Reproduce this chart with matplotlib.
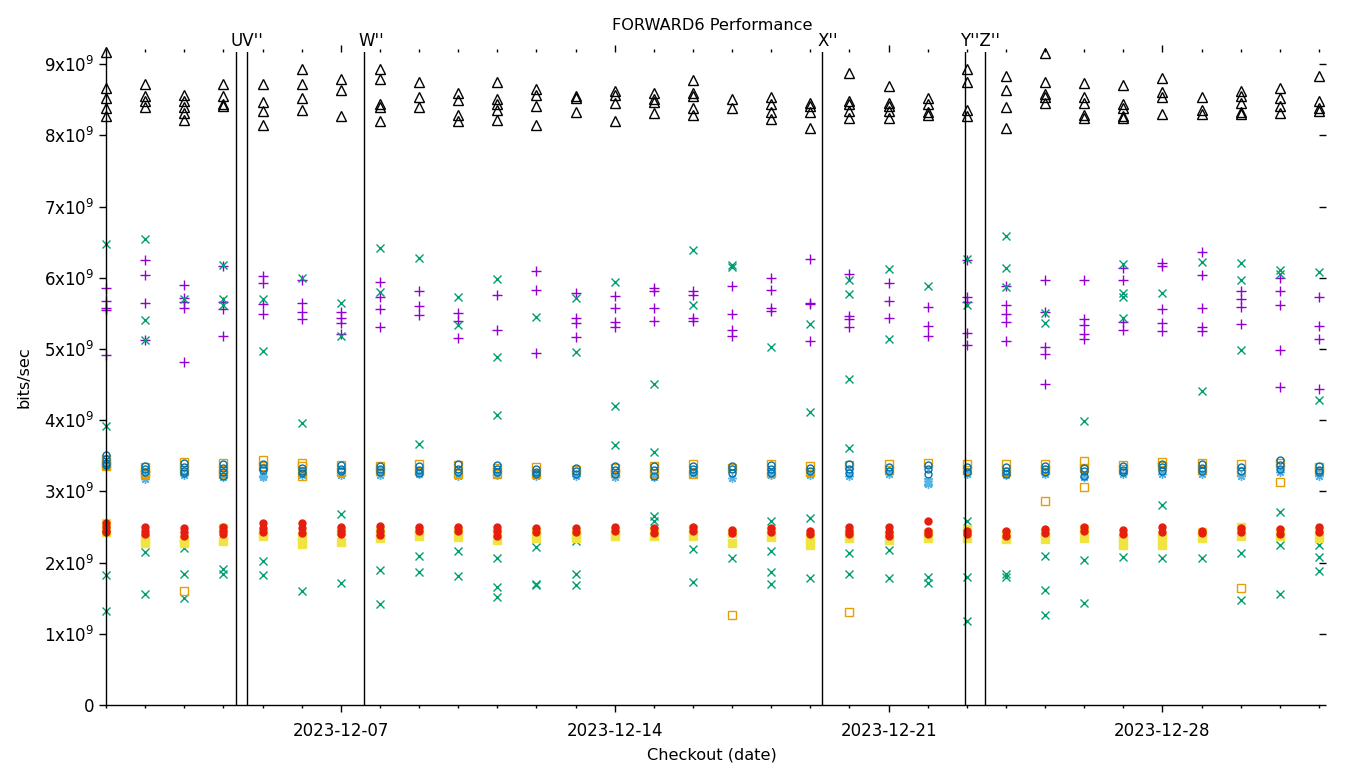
import matplotlib
matplotlib.use("Agg")
import matplotlib.pyplot as plt
import matplotlib.dates as mdates
import pandas as pd

# one column of points per day, values in units of 1e9 bits/sec
days = pd.date_range("2023-12-01", "2024-01-01", freq="D")

plus_vals = [
    [5.86, 5.67, 5.58, 5.55, 4.92], [6.25, 6.04, 5.65, 5.13], [5.90, 5.72, 5.66, 5.58, 4.82],
    [6.17, 5.66, 5.56, 5.18], [6.03, 5.93, 5.63, 5.49], [5.97, 5.65, 5.52, 5.42],
    [5.52, 5.44, 5.36, 5.21], [5.94, 5.73, 5.56, 5.31], [5.81, 5.60, 5.48],
    [5.51, 5.39, 5.15], [5.76, 5.27], [6.10, 5.83, 4.95],
    [5.79, 5.44, 5.37, 5.17], [5.75, 5.58, 5.38, 5.31], [5.86, 5.81, 5.58, 5.39],
    [5.81, 5.76, 5.44, 5.39], [5.88, 5.49, 5.27, 5.18], [6.00, 5.83, 5.58, 5.53],
    [6.26, 5.65, 5.63, 5.11], [6.05, 5.46, 5.42, 5.31], [5.93, 5.67, 5.44],
    [5.59, 5.32, 5.18], [6.25, 5.73, 5.66, 5.22, 5.06], [5.88, 5.62, 5.49, 5.38, 5.11],
    [5.97, 5.52, 5.03, 4.93, 4.51], [5.97, 5.42, 5.34, 5.21, 5.14], [6.14, 5.97, 5.38, 5.27],
    [6.21, 6.17, 5.56, 5.37, 5.25], [6.36, 6.04, 5.58, 5.31, 5.25], [5.81, 5.70, 5.59, 5.35],
    [6.00, 5.81, 5.62, 4.99, 4.47], [5.73, 5.32, 5.14, 4.44],
]
cross_vals = [
    [6.47, 3.92, 1.82, 1.32], [6.55, 5.40, 5.13, 2.15, 1.56], [5.70, 2.21, 1.84, 1.50],
    [6.18, 5.70, 5.62, 1.91, 1.84], [5.70, 4.97, 2.02, 1.83], [6.00, 3.96, 1.60],
    [5.65, 5.18, 2.68, 1.72], [6.42, 5.80, 1.90, 1.42], [6.28, 3.67, 2.09, 1.87],
    [5.73, 5.34, 2.16, 1.81], [5.98, 4.89, 4.07, 2.06, 1.66, 1.52], [5.45, 2.22, 1.70, 1.68],
    [5.72, 4.96, 2.30, 1.84, 1.68], [5.94, 4.20, 3.65], [4.51, 3.55, 2.65, 2.58],
    [6.39, 5.62, 2.19, 1.73], [6.18, 6.15, 2.06], [5.03, 2.58, 2.16, 1.87, 1.70],
    [5.35, 4.12, 2.62, 1.78], [5.97, 5.77, 4.58, 3.61, 2.13, 1.84], [6.12, 5.14, 2.18, 1.78],
    [5.88, 3.13, 1.80, 1.71], [6.26, 5.62, 2.58, 1.80, 1.18], [6.59, 6.14, 5.87, 1.84, 1.80],
    [5.51, 5.36, 2.09, 1.62, 1.26], [3.99, 2.04, 1.43], [6.19, 5.79, 5.73, 5.44, 2.08],
    [5.79, 2.81, 2.25, 2.06], [6.22, 4.41, 2.06], [6.21, 5.97, 4.99, 2.13, 1.47],
    [6.11, 6.05, 2.71, 2.25, 1.56], [6.08, 4.28, 2.25, 2.08, 1.88],
]
star_vals = [
    [3.36], [3.21, 3.17], [3.23], [3.20], [3.22, 3.20], [3.23], [3.23], [3.23],
    [3.24], [3.22], [3.23], [3.22], [3.22], [3.20], [3.20], [3.24],
    [3.19], [3.23], [3.23], [3.22], [3.25], [3.10, 3.15], [3.24], [3.23],
    [3.25], [3.20], [3.24], [3.24], [3.25], [3.22], [3.27], [3.22],
]
osq_vals = [
    [3.45, 3.38, 3.36], [3.34, 3.27, 3.24], [3.41, 3.30, 1.60], [3.40, 3.30, 3.24],
    [3.44, 3.35], [3.40, 3.36, 3.22], [3.37, 3.27], [3.35, 3.28],
    [3.39, 3.28], [3.37, 3.24], [3.33, 3.25], [3.34, 3.25],
    [3.30], [3.33, 3.26], [3.35, 3.25], [3.38, 3.24],
    [3.33, 1.27], [3.38, 3.26], [3.35, 3.27], [3.37, 1.30],
    [3.39, 3.30], [3.40], [3.39, 3.30], [3.39, 3.27],
    [3.39, 3.30, 2.87], [3.43, 3.33, 3.06], [3.37, 3.32], [3.41, 3.36],
    [3.40, 3.30], [3.38, 3.28, 1.64], [3.40, 3.13], [3.34, 3.28],
]
fsq_vals = [
    [2.56, 2.43], [2.33, 2.27], [2.32, 2.27], [2.48, 2.30], [2.42, 2.37], [2.38, 2.26],
    [2.45, 2.29], [2.45, 2.35], [2.45, 2.38], [2.44, 2.36], [2.42, 2.32], [2.43, 2.35],
    [2.40, 2.35], [2.45, 2.38], [2.45, 2.37], [2.47, 2.38], [2.42, 2.27], [2.45, 2.36],
    [2.35, 2.25], [2.42, 2.35], [2.40, 2.32], [2.42, 2.35], [2.47, 2.35], [2.40, 2.33],
    [2.42, 2.33], [2.47, 2.35], [2.35, 2.25], [2.35, 2.25], [2.43, 2.35], [2.50, 2.38],
    [2.43, 2.37], [2.45, 2.34],
]
ocirc_vals = [
    [3.51, 3.45, 3.40, 3.37], [3.35, 3.31, 3.27], [3.40, 3.34, 3.29, 3.26], [3.38, 3.33, 3.27, 3.21],
    [3.38, 3.33, 3.30], [3.33, 3.29, 3.26], [3.37, 3.32, 3.28], [3.36, 3.31, 3.27],
    [3.36, 3.30, 3.26], [3.38, 3.32, 3.27], [3.37, 3.32, 3.27], [3.31, 3.27, 3.24],
    [3.33, 3.28, 3.24], [3.36, 3.30, 3.25], [3.36, 3.30, 3.21], [3.36, 3.31, 3.27],
    [3.35, 3.31, 3.26], [3.37, 3.31, 3.26], [3.33, 3.28], [3.38, 3.32, 3.26],
    [3.34, 3.29], [3.37, 3.32, 3.25], [3.34, 3.27], [3.34, 3.29, 3.25],
    [3.36, 3.31, 3.27], [3.33, 3.28, 3.22], [3.35, 3.30, 3.27], [3.38, 3.34, 3.29],
    [3.38, 3.33, 3.28], [3.34, 3.29], [3.44, 3.37, 3.31], [3.35, 3.30, 3.27],
]
fcirc_vals = [
    [2.56, 2.50, 2.45, 2.43], [2.50, 2.45, 2.40], [2.48, 2.43, 2.38], [2.50, 2.45, 2.40],
    [2.55, 2.48, 2.43], [2.55, 2.48, 2.42], [2.50, 2.45, 2.40], [2.52, 2.45, 2.39],
    [2.50, 2.44], [2.50, 2.45], [2.50, 2.45, 2.38], [2.48, 2.43],
    [2.48, 2.43], [2.50, 2.44], [2.48, 2.42], [2.50, 2.44],
    [2.46, 2.41], [2.48, 2.43], [2.45, 2.40], [2.50, 2.45, 2.40],
    [2.50, 2.43, 2.37], [2.58, 2.45, 2.40], [2.45, 2.40], [2.45, 2.38],
    [2.47, 2.41], [2.50, 2.44], [2.46, 2.40], [2.50, 2.43],
    [2.45, 2.42], [2.48, 2.43], [2.47, 2.40], [2.50, 2.43],
]
tri_vals = [
    [9.17, 8.67, 8.53, 8.39, 8.27], [8.72, 8.55, 8.48, 8.40], [8.57, 8.48, 8.40, 8.31, 8.22],
    [8.72, 8.55, 8.44, 8.41], [8.72, 8.47, 8.34, 8.15], [8.93, 8.72, 8.53, 8.36],
    [8.79, 8.64, 8.27], [8.93, 8.79, 8.44, 8.40, 8.20], [8.75, 8.54, 8.40],
    [8.60, 8.50, 8.29, 8.20], [8.75, 8.51, 8.44, 8.36, 8.22], [8.65, 8.57, 8.41, 8.15],
    [8.55, 8.53, 8.33], [8.62, 8.57, 8.45, 8.20], [8.60, 8.51, 8.47, 8.31],
    [8.78, 8.60, 8.55, 8.38, 8.29], [8.51, 8.38], [8.54, 8.44, 8.33, 8.23],
    [8.46, 8.41, 8.33, 8.10], [8.88, 8.48, 8.44, 8.34, 8.24], [8.69, 8.46, 8.41, 8.34, 8.24],
    [8.53, 8.44, 8.33, 8.29], [8.93, 8.75, 8.36, 8.27], [8.83, 8.64, 8.40, 8.10],
    [9.16, 8.75, 8.58, 8.54, 8.46], [8.74, 8.54, 8.46, 8.29, 8.24], [8.71, 8.44, 8.38, 8.27, 8.24],
    [8.81, 8.61, 8.54, 8.30], [8.54, 8.36, 8.30], [8.62, 8.55, 8.46, 8.33, 8.30],
    [8.67, 8.53, 8.41, 8.31], [8.83, 8.48, 8.38, 8.34],
]

# checkout markers (U/V and Y/Z sit so close that their labels run together)
event_times = ["2023-12-04 07:35", "2023-12-04 14:20", "2023-12-07 14:10",
               "2023-12-19 07:20", "2023-12-22 23:05", "2023-12-23 11:20"]
label_names = ["UV''", "W''", "X''", "Y''Z''"]
label_times = ["2023-12-04 07:35", "2023-12-07 14:10", "2023-12-19 07:20", "2023-12-22 23:05"]


def flat(vals):
    xs, ys = [], []
    for d, col in zip(days, vals):
        for v in col:
            xs.append(d)
            ys.append(v * 1e9)
    return xs, ys


series = [
    (plus_vals, "#9400D3", dict(marker="+", ms=7)),
    (cross_vals, "#009E73", dict(marker="x", ms=6)),
    (star_vals, "#56B4E9", dict(marker=(8, 2, 0), ms=6.5)),
    (osq_vals, "#E69F00", dict(marker="s", ms=6, mfc="none")),
    (fsq_vals, "#F0E442", dict(marker="s", ms=5.5)),
    (ocirc_vals, "#0072B2", dict(marker="o", ms=5, mfc="none")),
    (fcirc_vals, "#E51E10", dict(marker="o", ms=5)),
    (tri_vals, "black", dict(marker="^", ms=7, mfc="none")),
]

fig = plt.figure(figsize=(13.6, 7.68), dpi=100)
ax = fig.add_axes([106 / 1360, 1 - 705 / 768, (1319 - 106) / 1360, (705 - 52) / 768])

for vals, color, kw in series:
    xs, ys = flat(vals)
    ax.plot(xs, ys, linestyle="none", color=color, mew=1.0, clip_on=False, **kw)

ax.set_xlim(pd.Timestamp("2023-12-01"), pd.Timestamp("2024-01-01"))
ax.set_ylim(0, 9.17e9)

for t in event_times:
    ax.axvline(pd.Timestamp(t), color="black", lw=1.0)
for name, t in zip(label_names, label_times):
    ax.annotate(name, (pd.Timestamp(t), 9.17e9), xytext=(-3.6, 4.5), textcoords="offset points",
                ha="left", va="baseline", fontsize=12, annotation_clip=False)

ax.set_yticks([i * 1e9 for i in range(10)])
ax.set_yticklabels(["0"] + ["%dx10$^{9}$" % i for i in range(1, 10)])
ax.xaxis.set_major_locator(mdates.DayLocator(bymonthday=[7, 14, 21, 28]))
ax.xaxis.set_major_formatter(mdates.DateFormatter("%Y-%m-%d"))
ax.xaxis.set_minor_locator(mdates.DayLocator())

for s in ["top", "right"]:
    ax.spines[s].set_visible(False)
for s in ["left", "bottom"]:
    ax.spines[s].set_linewidth(1.0)
ax.tick_params(which="both", direction="out", top=True, right=True, width=1.0, labelsize=12)
ax.tick_params(which="major", length=5)
ax.tick_params(which="minor", length=2.5)
ax.tick_params(axis="x", which="major", pad=7)

fig.text(712 / 1360, 1 - 25 / 768, "FORWARD6 Performance", ha="center", va="center", fontsize=11.6)
fig.text(712 / 1360, 1 - 755 / 768, "Checkout (date)", ha="center", va="center", fontsize=11.6)
fig.text(24 / 1360, 1 - 377 / 768, "bits/sec", ha="center", va="center", rotation=90, fontsize=11.6)

fig.savefig("out.png", dpi=100)
